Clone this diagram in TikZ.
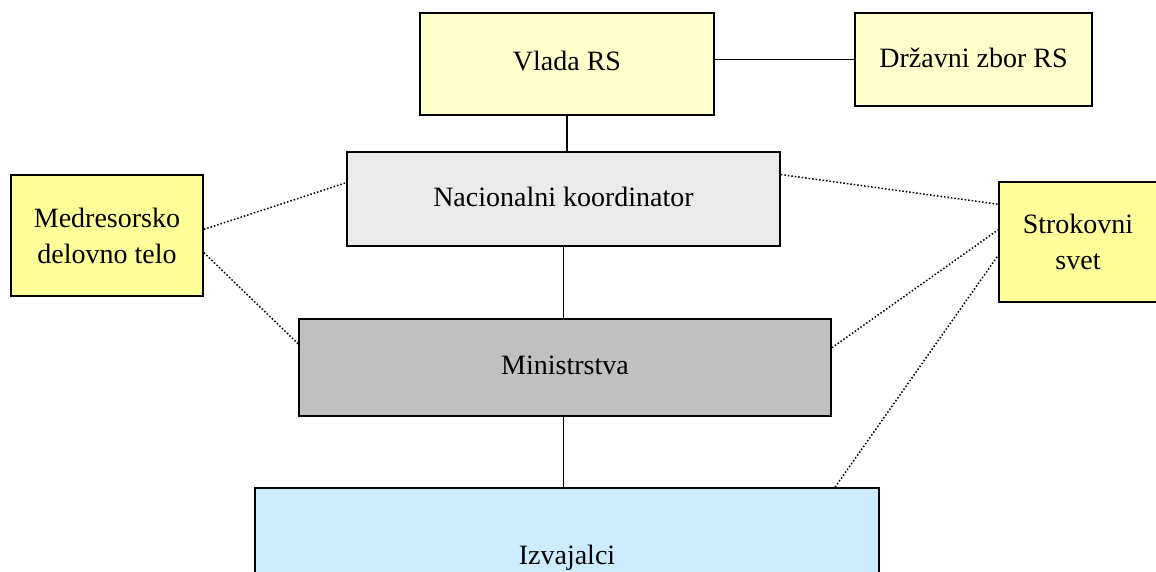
\documentclass[tikz,border=0pt]{standalone}
\usepackage{fontspec}
\setmainfont{Liberation Serif}
\usetikzlibrary{calc}
\definecolor{paleyellow}{HTML}{FFFFCC}
\definecolor{brightyellow}{HTML}{FFFF99}
\definecolor{lightgrey}{HTML}{EAEAEA}
\definecolor{midgrey}{HTML}{C0C0C0}
\definecolor{lightblue}{HTML}{CCECFF}
\begin{document}
\begin{tikzpicture}[x=1pt,y=-1pt,
  box/.style={draw=black,line width=1.8pt,rectangle,inner sep=0pt,align=center,
    font=\fontsize{28}{36}\selectfont},
  solidlink/.style={line width=1.6pt},
  dotlink/.style={line width=1.5pt,dotted}]
\useasboundingbox (0,0) rectangle (1156,572);
\clip (0,0) rectangle (1156,572);
\node[box,fill=paleyellow,minimum width=294pt,minimum height=102pt] (vlada) at (567,64) {\raisebox{6pt}{Vlada RS}};
\node[box,fill=paleyellow,minimum width=237pt,minimum height=93pt] (dz) at (973.5,59.5) {\raisebox{3pt}{Državni zbor RS}};
\node[box,fill=lightgrey,minimum width=433pt,minimum height=94pt] (nac) at (563.5,199) {\raisebox{4pt}{Nacionalni koordinator}};
\node[box,fill=brightyellow,minimum width=192pt,minimum height=121pt] (med) at (107,235.5) {Medresorsko\\delovno telo};
\node[box,fill=brightyellow,minimum width=158pt,minimum height=120pt] (str) at (1078,242) {Strokovni\\svet};
\node[box,fill=midgrey,minimum width=532pt,minimum height=97pt] (min) at (565,367.5) {\raisebox{5pt}{Ministrstva}};
\node[box,fill=lightblue,minimum width=624pt,minimum height=140pt] (izv) at (567,558) {Izvajalci};
% solid connectors
\draw[solidlink] (vlada.east |- dz.west) -- (dz.west);
\draw[solidlink] (vlada.south) -- (vlada.south |- nac.north);
\draw[solidlink] (nac.south) -- (nac.south |- min.north);
\draw[solidlink] (min.south -| nac.south) -- (izv.north -| nac.south);
% dotted connectors
\draw[dotlink] ($(med.north east)!0.45!(med.south east)$) -- ($(nac.north west)!0.33!(nac.south west)$);
\draw[dotlink] ($(med.north east)!0.64!(med.south east)$) -- ($(min.north west)!0.26!(min.south west)$);
\draw[dotlink] ($(nac.north east)!0.245!(nac.south east)$) -- ($(str.north west)!0.19!(str.south west)$);
\draw[dotlink] ($(min.north east)!0.3!(min.south east)$) -- ($(str.north west)!0.4!(str.south west)$);
\draw[dotlink] ($(izv.north west)+(581,0)$) -- ($(str.north west)!0.61!(str.south west)$);
\end{tikzpicture}
\end{document}
